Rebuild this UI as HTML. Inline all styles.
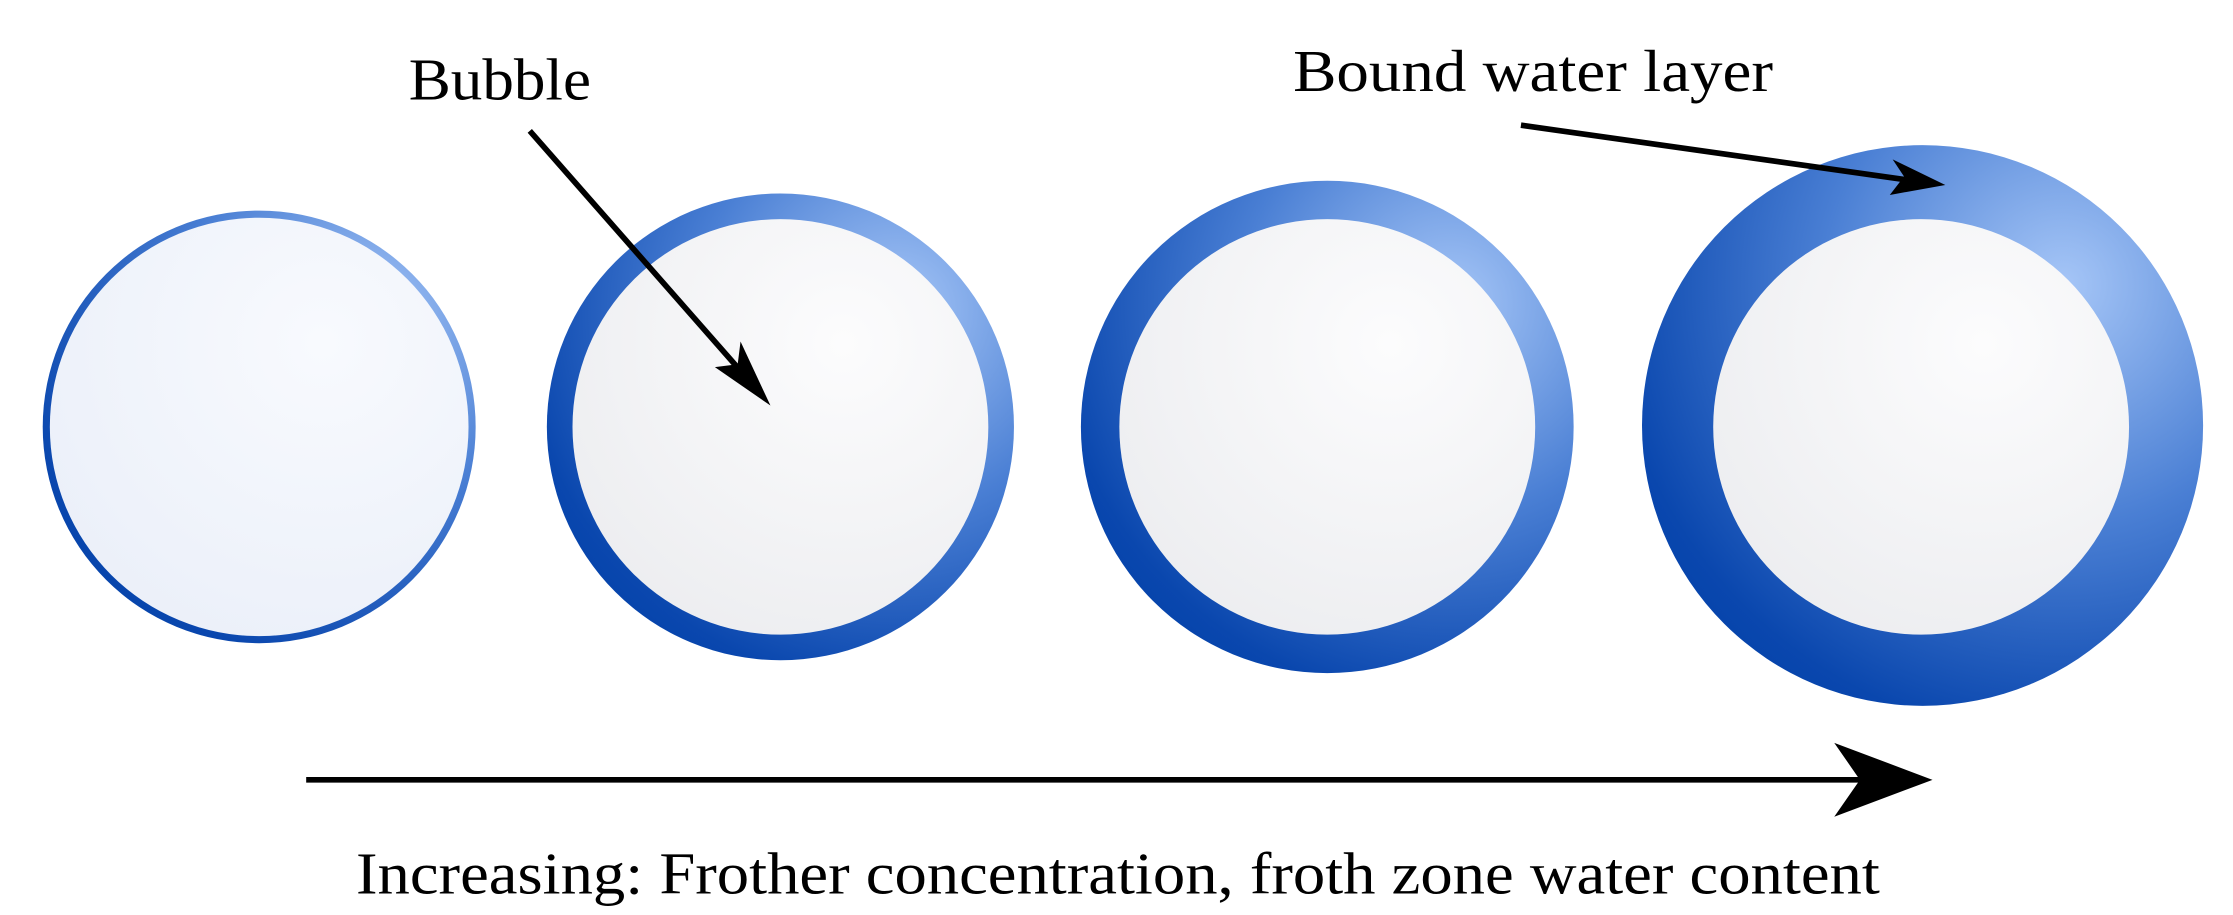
<!DOCTYPE html>
<html><head><style>html,body{margin:0;padding:0;background:#fff}svg{display:block}</style></head>
<body>
<svg width="2233" height="915" viewBox="0 0 1568 643" preserveAspectRatio="none" xmlns="http://www.w3.org/2000/svg">
<defs>
<radialGradient id="ring" cx="0.75" cy="0.25" r="0.95" fx="0.75" fy="0.25">
<stop offset="0" stop-color="#a6c6f7"/>
<stop offset="0.45" stop-color="#4a7fd4"/>
<stop offset="0.85" stop-color="#0a47ae"/>
<stop offset="1" stop-color="#0040a8"/>
</radialGradient>
<radialGradient id="inner" cx="0.65" cy="0.3" r="0.9">
<stop offset="0" stop-color="#fcfcfd"/>
<stop offset="1" stop-color="#eaebee"/>
</radialGradient>
<radialGradient id="inner1" cx="0.65" cy="0.3" r="0.9">
<stop offset="0" stop-color="#f8fafe"/>
<stop offset="1" stop-color="#e9eef8"/>
</radialGradient>
</defs>
<circle cx="182" cy="300" r="152" fill="url(#ring)"/>
<circle cx="182" cy="300" r="147" fill="url(#inner1)"/>
<circle cx="548" cy="300" r="164" fill="url(#ring)"/>
<circle cx="548" cy="300" r="146" fill="url(#inner)"/>
<circle cx="932" cy="300" r="173" fill="url(#ring)"/>
<circle cx="932" cy="300" r="146" fill="url(#inner)"/>
<circle cx="1350" cy="299" r="197" fill="url(#ring)"/>
<circle cx="1349" cy="300" r="146" fill="url(#inner)"/>
<g font-family="Liberation Serif, serif" fill="#000" font-size="42">
<text x="287" y="70" textLength="128" lengthAdjust="spacingAndGlyphs">Bubble</text>
<text x="908" y="64" textLength="337" lengthAdjust="spacingAndGlyphs">Bound water layer</text>
<text x="250" y="628" textLength="1070" lengthAdjust="spacingAndGlyphs">Increasing: Frother concentration, froth zone water content</text>
</g>
<line x1="372" y1="92" x2="530" y2="272" stroke="#000" stroke-width="4"/>
<polygon points="541,285 502,258 518,256 520,240" fill="#000"/>
<line x1="1068" y1="88" x2="1350" y2="128" stroke="#000" stroke-width="4"/>
<polygon points="1366,130 1329,112 1337,124 1327,137" fill="#000"/>
<line x1="215" y1="548" x2="1320" y2="548" stroke="#000" stroke-width="4"/>
<polygon points="1357,548 1288,522 1306,548 1288,574" fill="#000"/>
</svg>
</body></html>
